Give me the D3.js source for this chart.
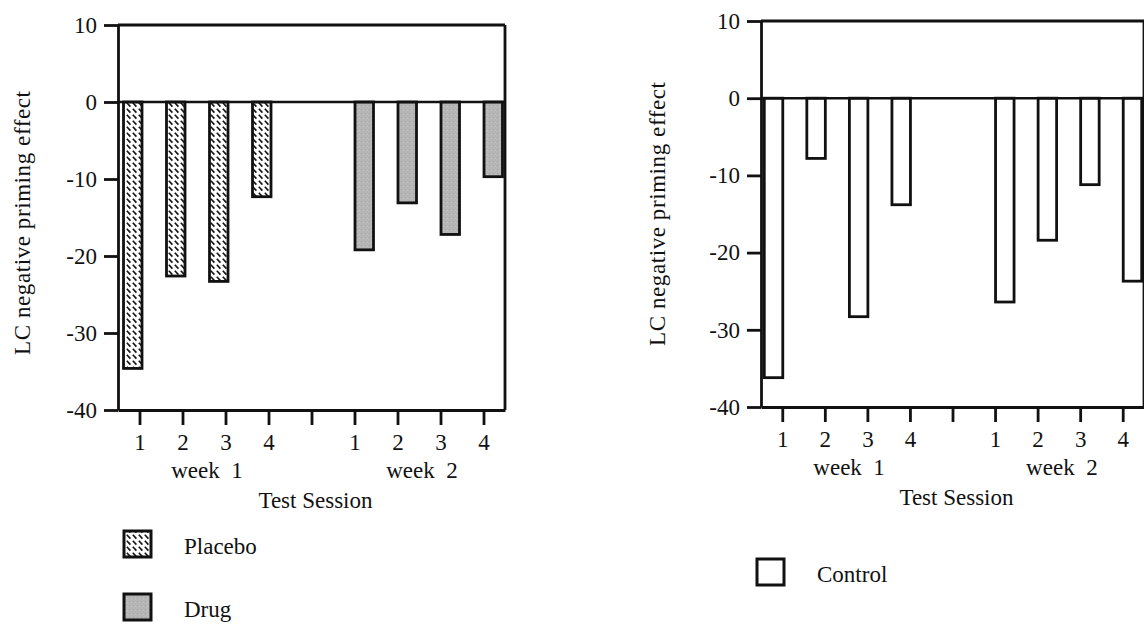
<!DOCTYPE html>
<html>
<head>
<meta charset="utf-8">
<script src="https://cdn.jsdelivr.net/npm/d3@7"></script>
<style>
  html, body { margin: 0; padding: 0; background: #fff; }
  svg { display: block; }
  text { font-family: "Liberation Serif", "Times New Roman", serif; fill: #111; }
</style>
</head>
<body>
<svg id="chart" width="1144" height="624"></svg>
<script>
// ---------- data ----------
const slots = ["w1-1", "w1-2", "w1-3", "w1-4", "gap", "w2-1", "w2-2", "w2-3", "w2-4"];
const slotLabels = ["1", "2", "3", "4", "", "1", "2", "3", "4"];
const week1Slots = ["w1-1", "w1-2", "w1-3", "w1-4"];
const week2Slots = ["w2-1", "w2-2", "w2-3", "w2-4"];
const weekLabels = ["week  1", "week  2"];
const placeboValues = [-34.6, -22.6, -23.3, -12.3];   // week 1
const drugValues = [-19.2, -13.1, -17.2, -9.7];       // week 2
const controlWeek1 = [-36.2, -7.8, -28.3, -13.8];
const controlWeek2 = [-26.4, -18.4, -11.2, -23.7];
const yTicks = [10, 0, -10, -20, -30, -40];
const yTickLabels = ["10", "0", "-10", "-20", "-30", "-40"];
const yDomain = [-40, 10];
const yTitle = "LC negative priming effect";
const xTitle = "Test Session";
const leftLegend = ["Placebo", "Drug"];
const rightLegend = ["Control"];

// ---------- setup ----------
const svg = d3.select("#chart");
const FONT = 23;
const defs = svg.append("defs");

const pat = defs.append("pattern")
  .attr("id", "placeboPat")
  .attr("patternUnits", "userSpaceOnUse")
  .attr("width", 6).attr("height", 6);
pat.append("rect").attr("width", 6).attr("height", 6).attr("fill", "#fff");
pat.append("path").attr("d", "M0.8,0.8 L4.4,4.6").attr("stroke", "#111").attr("stroke-width", 1.6);

const drugPat = defs.append("pattern")
  .attr("id", "drugPat")
  .attr("patternUnits", "userSpaceOnUse")
  .attr("width", 4).attr("height", 4);
drugPat.append("rect").attr("width", 4).attr("height", 4).attr("fill", "#b6b6b6");
drugPat.append("rect").attr("x", 1).attr("y", 1).attr("width", 1).attr("height", 1).attr("fill", "#a4a4a4");
drugPat.append("rect").attr("x", 3).attr("y", 2).attr("width", 1).attr("height", 1).attr("fill", "#c4c4c4");

function drawPanel(cfg) {
  const g = svg.append("g");
  const x = d3.scalePoint().domain(slots).range([cfg.left, cfg.right]).padding(0.5);
  const y = d3.scaleLinear().domain(yDomain).range([cfg.bottom, cfg.top]);
  const SW = 2.8;

  // frame (top and right)
  g.append("line").attr("x1", cfg.left).attr("x2", cfg.right)
    .attr("y1", y(10)).attr("y2", y(10)).attr("stroke", "#111").attr("stroke-width", SW);
  g.append("line").attr("x1", cfg.right).attr("x2", cfg.right)
    .attr("y1", y(10)).attr("y2", y(-40)).attr("stroke", "#111").attr("stroke-width", SW);

  // y axis
  const ya = g.append("g").attr("transform", `translate(${cfg.left},0)`)
    .call(d3.axisLeft(y).tickValues(yTicks).tickSize(14).tickSizeOuter(0).tickPadding(7)
      .tickFormat((d, i) => yTickLabels[i]));
  ya.selectAll("line, path").attr("stroke", "#111").attr("stroke-width", SW);
  ya.selectAll("text").attr("font-size", FONT).style("font-family", "Liberation Serif").attr("fill", "#111");

  // x axis
  const xa = g.append("g").attr("transform", `translate(0,${y(-40)})`)
    .call(d3.axisBottom(x).tickSize(15).tickSizeOuter(0).tickPadding(9)
      .tickFormat((d, i) => slotLabels[i]));
  xa.selectAll("line, path").attr("stroke", "#111").attr("stroke-width", SW);
  xa.selectAll("text").attr("font-size", FONT).style("font-family", "Liberation Serif").attr("fill", "#111");

  // bars
  const bw = 18.5;
  cfg.series.forEach(s => {
    g.selectAll(null).data(s.values).enter().append("rect")
      .attr("x", (d, i) => x(s.slots[i]) + s.offset)
      .attr("y", y(0))
      .attr("width", bw)
      .attr("height", d => y(d) - y(0))
      .attr("fill", s.fill)
      .attr("stroke", "#111").attr("stroke-width", SW);
  });

  // zero line
  g.append("line").attr("x1", cfg.left).attr("x2", cfg.right)
    .attr("y1", y(0)).attr("y2", y(0)).attr("stroke", "#111").attr("stroke-width", 2.4);

  // week labels
  [week1Slots, week2Slots].forEach((ws, k) => {
    g.append("text")
      .attr("x", (x(ws[1]) + x(ws[2])) / 2 + 3)
      .attr("y", y(-40) + 68)
      .attr("text-anchor", "middle")
      .attr("font-size", FONT)
      .style("white-space", "pre")
      .text(weekLabels[k]);
  });

  // x title
  g.append("text")
    .attr("x", (cfg.left + cfg.right) / 2 + 4)
    .attr("y", y(-40) + 98)
    .attr("text-anchor", "middle")
    .attr("font-size", FONT)
    .text(xTitle);

  // y title
  g.append("text")
    .attr("transform", `translate(${cfg.yTitleX},${cfg.yTitleY}) rotate(-90)`)
    .attr("text-anchor", "middle")
    .attr("font-size", FONT)
    .attr("textLength", 264)
    .attr("lengthAdjust", "spacing")
    .text(yTitle);

  // legend
  cfg.legend.forEach((L, i) => {
    g.append("rect")
      .attr("x", L.x).attr("y", L.y)
      .attr("width", 27).attr("height", 26)
      .attr("fill", L.fill).attr("stroke", "#111").attr("stroke-width", 3);
    g.append("text")
      .attr("x", L.x + 60).attr("y", L.y + 23)
      .attr("font-size", FONT)
      .text(L.label);
  });
}

drawPanel({
  left: 118, right: 505, top: 25, bottom: 410,
  yTitleX: 30, yTitleY: 223,
  series: [
    { values: placeboValues, slots: week1Slots, offset: -16, fill: "url(#placeboPat)" },
    { values: drugValues, slots: week2Slots, offset: 0.5, fill: "url(#drugPat)" }
  ],
  legend: [
    { x: 124, y: 531, fill: "url(#placeboPat)", label: leftLegend[0] },
    { x: 124, y: 594, fill: "url(#drugPat)", label: leftLegend[1] }
  ]
});

drawPanel({
  left: 761, right: 1144, top: 21, bottom: 407,
  yTitleX: 665, yTitleY: 214,
  series: [
    { values: controlWeek1, slots: week1Slots, offset: -18, fill: "#fff" },
    { values: controlWeek2, slots: week2Slots, offset: 0.5, fill: "#fff" }
  ],
  legend: [
    { x: 757, y: 559, fill: "#fff", label: rightLegend[0] }
  ]
});
</script>
</body>
</html>
